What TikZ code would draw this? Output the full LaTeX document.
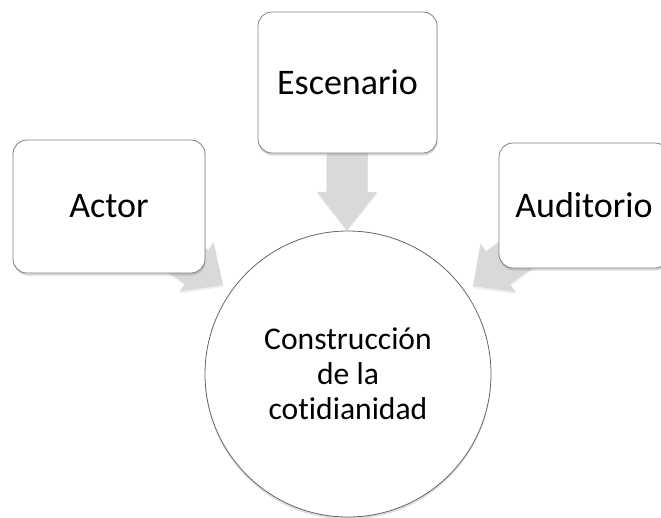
\documentclass[tikz,border=0pt]{standalone}
\usepackage{fontspec}
\setmainfont{Carlito}[Ligatures={NoCommon,NoContextual}, Contextuals=NoAlternate]
\usetikzlibrary{calc, shadows}

% block arrow: #1 from, #2 tip, #3 length, #4 head length
\newcommand{\blockarrow}[4]{%
  \coordinate (ba-h) at ($(#2)!#4!(#1)$);
  \coordinate (ba-e) at ($(#2)!#3!(#1)$);
  \fill[blockarr] (#2) -- ($(ba-h)!30pt!90:(#2)$) -- ($(ba-h)!20.5pt!90:(#2)$)
    -- ($(ba-e)!20.5pt!90:(#2)$) -- ($(ba-e)!20.5pt!-90:(#2)$)
    -- ($(ba-h)!20.5pt!-90:(#2)$) -- ($(ba-h)!30pt!-90:(#2)$) -- cycle;
}

\begin{document}
\begin{tikzpicture}[x=1pt, y=-1pt,
  box/.style={rectangle, rounded corners=14pt, draw=black!50, line width=0.8pt, fill=white,
    drop shadow={opacity=0.3, shadow xshift=0.5pt, shadow yshift=-2.5pt},
    font=\fontsize{36}{40}\selectfont},
  core/.style={circle, draw=black!60, line width=0.8pt, fill=white, minimum size=286pt,
    align=center, drop shadow={opacity=0.25, shadow xshift=0pt, shadow yshift=-2.5pt},
    font=\fontsize{31.6}{35}\selectfont},
  blockarr/.style={fill=black!15, drop shadow={opacity=0.12, shadow xshift=0pt, shadow yshift=-2pt}}]

\useasboundingbox (0,0) rectangle (661,517);
\clip (0,0) rectangle (661,517);

% Tips of the arrows
\coordinate (tipA) at (223,285);
\coordinate (tipE) at (347,230);
\coordinate (tipU) at (473,286);

% Centres of the boxes
\coordinate (cA) at (109,206.5);
\coordinate (cE) at (347.5,82.5);
\coordinate (cU) at (584,205.5);

% Arrows into the circle
\blockarrow{cA}{tipA}{110pt}{32pt}
\blockarrow{cE}{tipE}{100pt}{38pt}
\blockarrow{cU}{tipU}{110pt}{31pt}

% Boxes
\node[box, minimum width=192pt, minimum height=133pt] (actor) at (cA) {Actor};
\node[box, minimum width=179pt, minimum height=141pt] (escenario) at (cE) {Escenario};
\node[box, minimum width=170pt, minimum height=125pt] (auditorio) at (cU) {Auditorio};

% Centre circle
\node[core] (vida) at (348,374) {Construcción\\de la\\cotidianidad};

\end{tikzpicture}
\end{document}
